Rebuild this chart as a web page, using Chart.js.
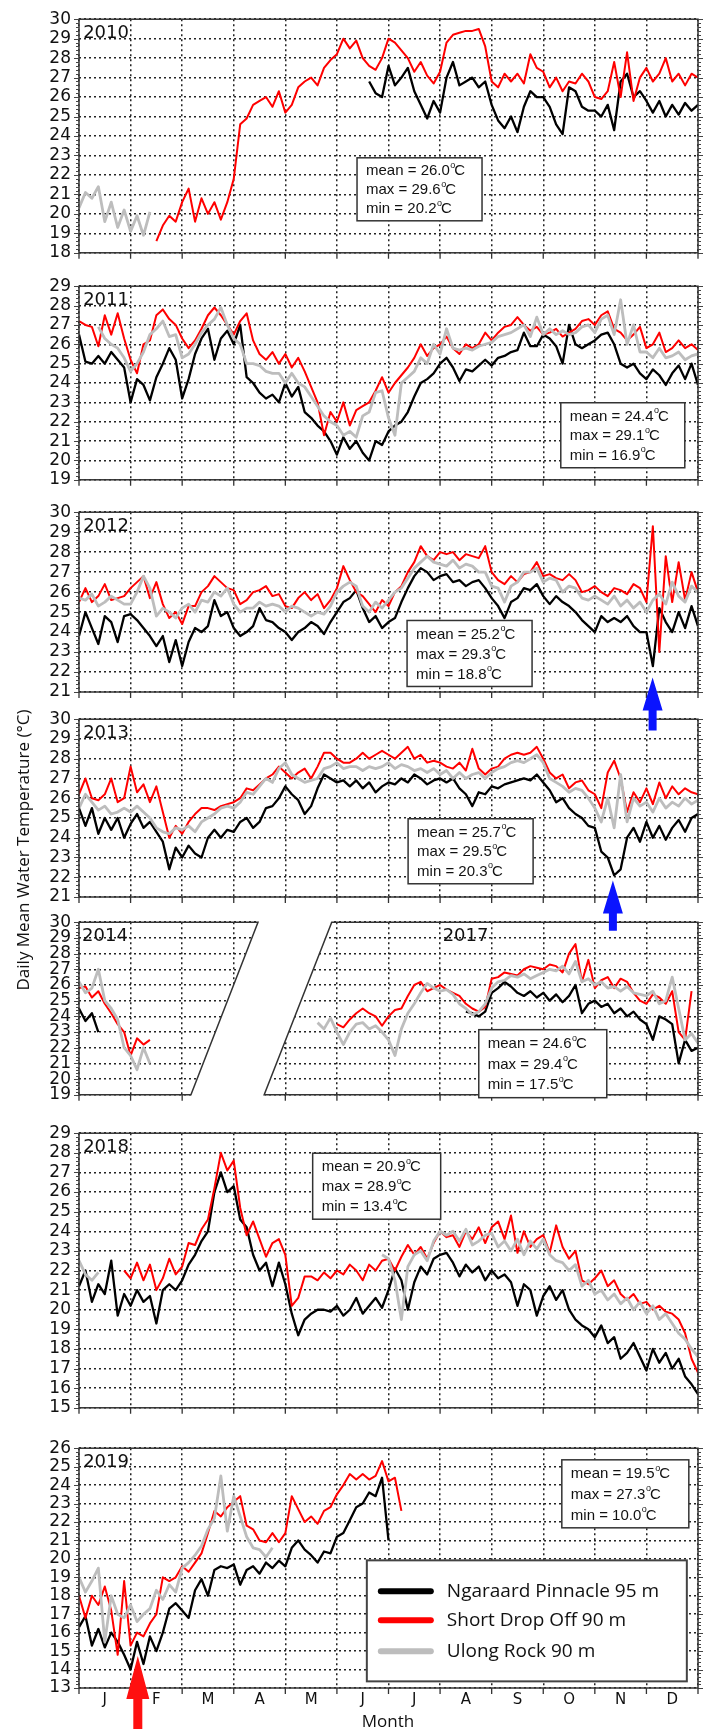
<!DOCTYPE html>
<html><head><meta charset="utf-8">
<script src="https://cdn.jsdelivr.net/npm/chart.js@4.4.0/dist/chart.umd.min.js"></script>
<style>
html,body{margin:0;padding:0;background:#fff;}
#wrap{position:relative;width:709px;height:1729px;overflow:hidden;background:#fff;}
#wrap canvas{position:absolute;left:0;}
#ytitle{position:absolute;left:-178px;top:839px;width:400px;height:22px;line-height:22px;text-align:center;font:17px "Open Sans",sans-serif;color:#111;transform:rotate(-90deg);z-index:200;}
#xtitle{position:absolute;left:288px;top:1709px;width:200px;height:22px;line-height:22px;text-align:center;font:17px "Open Sans",sans-serif;color:#111;z-index:200;}
</style></head><body>
<div id="wrap"><div id="ytitle">Daily Mean Water Temperature (°C)</div><div id="xtitle">Month</div></div>
<script>
// ---------------- DATA (x in months from 1 Jan, one value every 1/8 month) ----------------
const STEP = 0.125;
const monthLabels = ['J','F','M','A','M','J','J','A','S','O','N','D'];
const stationNames = ['Ngaraard Pinnacle 95 m','Short Drop Off 90 m','Ulong Rock 90 m'];

// 2010
const y2010_ngaraard_start = 5.625;
const y2010_ngaraard = [26.8,26.2,26.0, 27.6,26.6,27.0,27.5, 26.3,25.6,24.9,25.8, 25.2,27.0,27.8,26.6, 26.8,27.0,26.5,26.8, 25.6,24.8,24.4,25.0, 24.2,25.5,26.3,26.0, 26.0,25.5,24.6,24.1, 26.5,26.3,25.5,25.3, 25.3,25.0,25.6,24.3, 26.8,27.2,26.0,26.3, 25.8,25.2,25.8,25.0, 25.6,25.1,25.7,25.3, 25.6];
const y2010_shortdrop_start = 1.5;
const y2010_shortdrop = [18.6,19.4,19.9,19.6, 20.6,21.3,19.6,20.8, 20.0,20.6,19.7,20.6, 21.8,24.6,24.9,25.6, 25.8,26.0,25.5,26.3, 25.2,25.6,26.5,26.8, 27.0,26.6,27.5,27.9, 28.2,29.0,28.5,28.9, 28.0,27.6,27.4,28.0, 29.0,28.8,28.4,28.0, 27.3,27.8,27.1,26.7, 27.3,28.8,29.2,29.3, 29.4,29.4,29.5,28.6, 26.8,26.5,27.2,26.8, 27.2,26.7,28.2,27.5, 27.3,26.5,27.0,26.3, 26.8,26.7,27.2,26.8, 26.0,25.9,26.3,27.8, 26.0,28.3,25.8,27.0, 27.5,26.8,27.2,28.0, 26.8,27.2,26.6,27.2, 27.0];
const y2010_ulong_start = 0;
const y2010_ulong = [20.3,21.1,20.8,21.4,19.6,20.6,19.3,20.2,19.1,19.9,18.9,20.1];

// 2011
const y2011_ngaraard_start = 0;
const y2011_ngaraard = [26.5,25.1,25.0,25.4, 25.0,25.6,25.2,24.8, 23.0,24.2,23.9,23.1, 24.3,25.0,25.8,25.2, 23.2,24.2,25.5,26.3, 26.8,25.2,26.3,26.7, 26.0,27.0,24.3,24.0, 23.5,23.2,23.4,23.0, 24.0,23.3,23.8,22.5, 22.2,21.8,21.5,21.0, 20.3,21.2,20.6,21.0, 20.4,20.0,21.0,20.8, 21.5,21.8,22.0,22.5, 23.3,24.0,24.2,24.5, 25.0,25.3,24.8,24.1, 24.7,24.6,24.9,25.2, 24.9,25.3,25.4,25.6, 25.7,26.6,25.9,25.9, 26.5,26.3,25.9,25.0, 27.0,26.0,25.8,26.0, 26.2,26.5,26.6,26.0, 25.0,24.8,25.0,24.5, 24.2,24.7,24.4,23.9, 24.5,24.9,24.2,25.0, 23.9];
const y2011_shortdrop_start = 0;
const y2011_shortdrop = [27.2,27.0,26.9,25.9, 27.5,26.5,27.6,26.3, 25.2,24.5,26.0,26.2, 27.5,27.8,27.3,27.0, 26.3,25.8,26.2,26.8, 27.5,27.9,27.5,27.0, 26.5,27.2,27.6,26.2, 25.5,25.2,25.6,25.0, 25.5,24.8,25.3,24.6, 23.8,23.0,21.3,22.5, 22.0,23.0,21.8,22.6, 22.8,23.0,23.6,24.3, 23.5,24.0,24.4,24.8, 25.3,26.0,25.4,25.8, 26.0,26.4,25.8,25.5, 26.0,25.8,26.0,26.6, 26.2,26.6,26.9,27.0, 27.4,27.0,26.7,26.9, 26.5,26.6,26.8,26.4, 26.6,26.8,27.2,27.3, 27.0,27.5,27.7,26.8, 26.6,26.2,26.5,26.9, 25.8,26.0,26.6,25.6, 25.8,26.2,25.8,26.0, 25.7];
const y2011_ulong_start = 0.375;
const y2011_ulong = [26.9, 26.3,26.0,25.8,25.3, 24.6,25.0,25.6,26.5, 26.8,27.2,26.4,26.5, 25.3,25.5,26.0,26.6, 27.0,27.3,27.9,27.0, 26.3,26.0,25.0,25.0, 24.9,24.6,24.5,24.5, 24.0,24.5,24.0,23.8, 23.3,22.8,22.3,22.0, 21.8,21.3,21.5,21.2, 22.3,22.5,23.5,23.6, 22.2,21.3,24.0,24.3, 24.6,25.3,25.0,26.0, 25.5,26.8,25.8,25.7, 25.8,25.7,25.9,26.0, 26.1,26.4,26.5,26.6, 26.8,27.0,26.4,27.4, 26.5,26.8,26.5,26.7, 26.5,26.6,26.9,27.0, 26.6,27.3,27.5,26.5, 28.3,26.0,27.0,25.6, 25.6,25.3,25.8,25.3, 25.4,25.6,25.2,25.4, 25.5];

// 2012
const y2012_ngaraard_start = 0;
const y2012_ngaraard = [23.8,25.0,24.2,23.4, 24.8,24.5,23.5,24.8, 24.9,24.6,24.2,23.8, 23.3,23.8,22.5,23.6, 22.3,23.5,24.2,24.0, 24.3,25.6,24.8,25.0, 24.2,23.8,24.0,24.3, 25.2,24.6,24.5,24.2, 24.0,23.6,24.0,24.2, 24.5,24.3,23.9,24.5, 25.0,25.5,25.7,26.1, 25.2,24.5,24.8,24.2, 24.5,24.7,25.5,26.2, 26.8,27.2,27.0,26.6, 26.8,26.9,26.5,26.6, 26.3,26.5,26.6,26.2, 25.7,25.3,24.7,25.5, 25.7,26.2,26.1,26.4, 25.8,25.4,25.8,25.5, 25.3,25.0,24.6,24.3, 24.0,24.8,24.5,24.7, 24.5,24.8,24.3,24.0, 24.0,22.3,25.2,24.5, 24.0,25.0,24.2,25.3, 24.3];
const y2012_shortdrop_start = 0;
const y2012_shortdrop = [25.5,26.2,25.5,25.8, 26.4,25.6,25.7,25.8, 26.2,26.5,26.8,25.7, 26.5,25.4,24.7,25.0, 24.4,25.3,25.3,26.0, 26.3,26.8,26.5,26.2, 26.1,25.4,25.6,26.0, 26.1,26.3,25.8,25.9, 25.3,25.2,25.7,26.0, 25.6,25.9,25.2,25.6, 26.2,27.3,26.6,26.0, 25.8,25.4,25.0,25.6, 25.3,26.0,26.3,27.0, 27.5,28.3,27.8,27.6, 28.0,27.9,28.0,27.6, 27.9,27.8,27.7,28.3, 27.0,26.6,26.4,26.8, 26.5,26.9,27.0,27.5, 26.8,26.9,26.7,26.6, 26.9,26.6,26.0,26.1, 26.3,26.0,25.8,26.2, 26.1,25.9,26.4,26.2, 25.5,29.3,23.0,27.8, 25.5,27.5,25.6,27.0, 26.0];
const y2012_ulong_start = 0;
const y2012_ulong = [25.7,25.6,25.9,25.3, 25.5,25.8,25.6,25.4, 25.4,26.0,26.8,26.2, 24.8,25.2,25.0,24.7, 25.2,25.4,25.0,25.6, 25.5,26.0,25.8,26.2, 25.4,25.0,25.2,25.2, 25.5,25.3,25.4,25.3, 25.0,25.3,25.2,25.0, 24.8,25.0,24.9,25.3, 26.0,26.3,26.5,26.3, 25.3,25.0,25.5,25.2, 25.6,26.0,26.2,26.7, 27.2,27.5,27.8,27.5, 27.4,27.3,27.6,27.2, 27.4,27.3,27.0,27.0, 26.3,26.2,25.5,26.3, 26.5,27.0,27.0,27.2, 26.5,26.7,26.6,26.0, 26.3,26.2,25.7,25.6, 25.8,25.6,25.4,25.8, 25.3,25.6,25.2,25.5, 25.0,25.6,25.9,25.4, 26.5,25.8,25.5,26.3, 26.0];

// 2013
const y2013_ngaraard_start = 0;
const y2013_ngaraard = [25.5,24.6,25.5,24.2, 25.0,24.4,25.0,24.0, 24.7,25.2,24.5,24.8, 24.3,23.8,22.4,23.5, 23.0,23.6,23.2,23.0, 24.0,24.4,24.0,24.4, 24.3,24.8,25.0,24.5, 24.8,25.5,25.6,26.0, 26.6,26.2,25.9,25.2, 25.6,26.5,27.2,27.0, 26.8,26.9,26.6,26.9, 26.5,26.8,26.3,26.6, 26.8,26.7,27.0,26.8, 27.2,27.0,26.7,26.9, 27.0,26.8,27.0,26.5, 26.2,25.6,26.3,26.2, 26.6,26.5,26.7,26.8, 26.9,27.0,26.9,27.2, 26.8,26.4,25.8,26.0, 25.5,25.2,25.0,24.6, 24.5,23.3,23.0,22.1, 22.4,24.0,24.5,23.8, 24.8,24.0,24.6,23.9, 24.5,24.9,24.3,25.0, 25.2];
const y2013_shortdrop_start = 0;
const y2013_shortdrop = [26.2,27.0,26.0,25.9, 26.2,27.0,25.8,26.0, 27.6,26.3,26.7,25.8, 26.6,25.3,24.0,24.6, 24.2,24.8,25.2,25.5, 25.5,25.4,25.6,25.7, 25.8,26.0,26.5,26.4, 26.7,27.0,27.2,27.6, 27.3,27.0,27.3,27.5, 27.0,27.6,28.3,28.3, 28.0,27.8,27.8,28.0, 28.3,28.0,28.2,28.4, 28.2,28.0,28.3,28.6, 28.0,28.2,27.8,27.9, 27.8,27.6,27.5,27.8, 27.4,28.5,27.5,27.2, 27.5,27.6,28.0,28.2, 28.3,28.2,28.3,28.6, 28.0,27.3,27.0,27.2, 26.5,26.8,26.9,26.4, 26.2,25.5,27.3,27.9, 27.0,25.3,26.3,25.8, 26.5,25.7,26.8,26.0, 26.6,26.2,26.5,26.3, 26.2];
const y2013_ulong_start = 0;
const y2013_ulong = [25.5,26.2,25.8,25.4, 25.6,25.2,25.3,25.5, 25.3,25.6,25.3,25.0, 24.5,24.3,24.2,24.5, 24.4,24.6,24.3,24.8, 25.0,25.2,25.5,25.6, 25.5,25.8,26.3,26.2, 26.6,27.0,26.8,27.5, 27.8,27.2,27.0,26.8, 26.9,27.0,27.5,27.6, 27.8,27.5,27.6,27.6, 27.4,27.6,27.5,27.6, 27.8,27.5,27.7,27.6, 27.4,27.5,27.3,27.5, 27.2,27.4,27.0,27.3, 27.0,27.2,27.3,27.0, 27.3,27.5,27.6,27.8, 27.9,27.8,28.0,28.2, 27.8,27.0,26.8,26.6, 26.3,26.5,26.4,26.0, 25.5,24.8,26.0,24.5, 27.2,24.8,26.0,25.6, 25.8,25.3,26.0,25.5, 25.8,25.6,26.0,25.7, 25.9];

// 2014 (Jan-Feb) and 2017 (May-Dec)
const y2014_ngaraard_start = 0;
const y2014_ngaraard = [24.5,23.7,24.2,23.0];
const y2014_shortdrop_start = 0;
const y2014_shortdrop = [25.8,25.9,25.2,25.6,24.8,24.2,23.5,23.0,21.5,22.6,22.2,22.5];
const y2014_ulong_start = 0;
const y2014_ulong = [26.2,25.5,25.8,27.0,25.0,24.5,23.8,22.0,21.5,20.6,22.0,21.0];
const y2017_ngaraard_start = 7.5;
const y2017_ngaraard = [24.3,24.2,24.0,24.3, 25.5,25.8,26.2,25.9, 25.5,25.3,25.6,25.2, 25.5,25.0,25.4,24.9, 25.3,26.0,24.2,24.8, 25.0,24.6,24.8,24.2, 24.5,24.0,24.3,23.8, 23.5,22.5,24.0,23.8, 23.5,21.0,22.5,21.8, 22.0];
const y2017_shortdrop_start = 5.0;
const y2017_shortdrop = [23.5,23.3,23.8,24.2, 24.5,24.2,24.0,23.4, 24.0,24.4,24.5,25.3, 26.0,26.2,25.6,25.8, 26.0,25.7,25.5,25.3, 24.8,24.5,24.3,24.6, 26.4,26.5,26.8,26.7, 26.6,27.0,27.2,27.1, 27.0,27.3,27.2,26.8, 28.0,28.6,26.2,27.6, 25.8,26.3,26.5,25.8, 26.4,26.2,25.5,25.0, 24.8,25.4,25.2,24.8, 25.6,23.0,22.5,25.6];
const y2017_ulong_start = 4.625;
const y2017_ulong = [23.6,23.2,23.9, 23.0,22.2,23.0,23.5, 23.6,23.2,23.4,23.0, 22.5,21.5,23.2,24.2, 24.8,25.5,26.1,25.8, 25.6,25.7,25.4,24.8, 24.5,24.1,24.3,24.8, 25.8,26.2,26.3,26.6, 26.5,26.7,26.4,26.6, 26.8,27.0,26.9,27.2, 26.7,27.5,26.2,26.4, 26.0,26.2,25.8,25.9, 25.6,25.9,25.5,25.4, 25.3,25.6,24.8,25.0, 26.5,24.5,22.5,22.9, 22.3];

// 2018
const y2018_ngaraard_start = 0;
const y2018_ngaraard = [21.2,22.0,20.4,21.3, 20.8,22.5,19.7,20.8, 20.2,21.0,20.4,20.7, 19.3,21.0,21.3,21.0, 21.5,22.3,22.8,23.5, 24.0,26.0,27.0,26.0, 26.3,24.6,24.2,22.8, 22.0,22.4,21.2,22.4, 21.3,19.8,18.7,19.5, 19.8,20.0,20.0,19.9, 20.2,19.7,20.0,20.6, 19.8,20.2,20.6,20.1, 21.0,22.1,21.5,20.0, 21.4,22.2,21.8,22.6, 22.8,22.9,22.4,21.7, 22.3,21.9,22.2,21.5, 22.0,21.6,21.8,21.4, 20.2,21.3,21.0,19.7, 20.7,21.2,20.5,21.0, 20.0,19.5,19.2,19.0, 18.6,19.2,18.3,18.6, 17.5,17.8,18.3,17.6, 16.9,18.0,17.3,17.8, 17.0,17.5,16.6,16.2, 15.7];
const y2018_shortdrop_start = 0.875;
const y2018_shortdrop = [22.0, 21.6,22.4,21.5,22.3, 21.0,21.6,22.6,21.8, 22.2,23.4,23.3,24.1, 24.6,26.2,28.0,27.1, 27.6,25.2,23.8,24.5, 23.6,22.7,23.4,23.6, 22.8,20.2,20.6,21.7, 21.7,21.5,21.9,21.6, 22.0,21.8,22.3,22.0, 21.5,22.3,22.0,22.5, 22.6,22.0,22.7,23.3, 22.8,23.2,22.6,23.4, 24.0,23.7,23.8,23.2, 24.0,23.6,24.2,23.4, 24.2,24.5,23.6,24.8, 22.9,24.0,23.2,23.6, 23.8,22.9,24.3,23.2, 22.6,23.0,21.5,21.3, 21.6,22.0,21.2,21.5, 20.8,20.5,20.8,20.3, 20.4,20.0,20.2,19.9, 19.8,19.5,18.8,17.5, 16.8];
const y2018_ulong_a_start = 0;
const y2018_ulong_a = [22.5,21.8,21.5,21.9];
const y2018_ulong_b_start = 5.875;
const y2018_ulong_b = [22.8, 22.6,21.5,19.5,22.2, 22.8,23.0,22.5,23.5, 24.0,23.8,24.0,23.5, 24.1,23.3,23.5,23.8, 23.9,23.2,23.5,23.0, 23.6,22.8,23.5,23.1, 23.6,22.8,22.5,22.4, 22.0,22.3,21.2,21.5, 20.8,21.0,20.5,20.8, 20.3,20.6,20.0,20.4, 19.8,20.2,19.5,19.8, 19.3,18.8,18.5,18.0, 17.6];

// 2019
const y2019_ngaraard_start = 0;
const y2019_ngaraard = [16.3,16.9,15.3,16.2, 15.2,16.0,15.5,14.8, 14.0,15.5,14.3,15.8, 15.0,16.0,17.3,17.6, 17.2,16.8,18.3,18.9, 18.0,19.4,19.6,19.5, 19.7,18.6,19.4,19.6, 19.2,19.8,19.5,19.9, 19.6,20.6,21.0,20.5, 20.2,19.8,20.4,20.3, 21.2,21.4,22.1,22.8, 23.0,23.6,23.4,24.4, 21.0];
const y2019_shortdrop_start = 0;
const y2019_shortdrop = [18.0,16.8,18.0,17.5, 18.5,17.2,14.8,18.8, 15.3,16.0,15.8,16.5, 17.0,19.0,18.8,19.0, 19.6,19.3,19.8,20.3, 21.4,22.6,22.3,22.8, 23.1,23.4,21.8,21.6, 21.0,20.9,21.4,20.9, 21.4,23.4,22.7,22.0, 22.3,21.9,22.6,22.8, 23.5,24.0,24.6,24.3, 24.6,24.3,24.5,25.3, 24.2,24.4,22.6];
const y2019_ulong_start = 0;
const y2019_ulong = [19.0,18.2,18.8,19.5, 15.5,18.0,17.0,16.8, 17.5,16.6,17.0,17.3, 18.3,17.8,18.6,18.2, 19.5,19.8,20.2,20.7, 21.6,22.2,24.5,21.5, 23.4,22.3,21.2,20.6, 20.5,20.1,20.6];

// ---------------- helpers ----------------
function seg(start, vals){ return vals.map((v,i)=>({x:start + i*STEP, y:v})); }
function join(){ const out=[]; Array.from(arguments).forEach((s,k)=>{ if(k>0) out.push({x:s[0].x - STEP/2, y:null}); s.forEach(p=>out.push(p)); }); return out; }

const COL_BLACK = '#000000', COL_RED = '#ff0000', COL_GRAY = '#bdbdbd';
const GRID = '#222222';
const TICK_FONT = {family:'"DejaVu Sans", sans-serif', size:17};
const PAD_TOP = 12;
const L = 79, R = 698;

const panels = [
 {T:13,B:259,ymin:18,ymax:30,padBottom:12,
  years:[{t:'2010',m:0.08}],
  stats:{mean:'26.0',max:'29.6',min:'20.2',m:5.39,v:22.88,w:125,h:63},
  black:seg(y2010_ngaraard_start,y2010_ngaraard), red:seg(y2010_shortdrop_start,y2010_shortdrop), gray:seg(y2010_ulong_start,y2010_ulong)},
 {T:280,B:486,ymin:19,ymax:29,padBottom:12,
  years:[{t:'2011',m:0.08}],
  stats:{mean:'24.4',max:'29.1',min:'16.9',m:9.34,v:22.98,w:124,h:65},
  black:seg(y2011_ngaraard_start,y2011_ngaraard), red:seg(y2011_shortdrop_start,y2011_shortdrop), gray:seg(y2011_ulong_start,y2011_ulong)},
 {T:506,B:692,ymin:21,ymax:30,padBottom:45,
  years:[{t:'2012',m:0.08}],
  stats:{mean:'25.2',max:'29.3',min:'18.8',m:6.36,v:24.58,w:125,h:66},
  arrow:{m:11.12,tip:21.73,tail:19.07,color:'#0a14ff',head:33,hw:20,sw:8},
  black:seg(y2012_ngaraard_start,y2012_ngaraard), red:seg(y2012_shortdrop_start,y2012_shortdrop), gray:seg(y2012_ulong_start,y2012_ulong)},
 {T:713,B:897,ymin:21,ymax:30,padBottom:38,
  years:[{t:'2013',m:0.08}],
  stats:{mean:'25.7',max:'29.5',min:'20.3',m:6.38,v:24.96,w:125,h:65},
  arrow:{m:10.35,tip:21.83,tail:19.29,color:'#0a14ff',head:33,hw:20,sw:8},
  black:seg(y2013_ngaraard_start,y2013_ngaraard), red:seg(y2013_shortdrop_start,y2013_shortdrop), gray:seg(y2013_ulong_start,y2013_ulong)},
 {T:916,B:1101,ymin:19,ymax:30,padBottom:12,
  years:[{t:'2014',m:0.06},{t:'2017',m:7.05}],
  stats:{mean:'24.6',max:'29.4',min:'17.5',m:7.75,v:23.15,w:128,h:68},
  brk:{topL:3.47,botL:2.17,topR:4.90,botR:3.59},
  black:join(seg(y2014_ngaraard_start,y2014_ngaraard),seg(y2017_ngaraard_start,y2017_ngaraard)),
  red:join(seg(y2014_shortdrop_start,y2014_shortdrop),seg(y2017_shortdrop_start,y2017_shortdrop)),
  gray:join(seg(y2014_ulong_start,y2014_ulong),seg(y2017_ulong_start,y2017_ulong))},
 {T:1127,B:1414,ymin:15,ymax:29,padBottom:12,
  years:[{t:'2018',m:0.08}],
  stats:{mean:'20.9',max:'28.9',min:'13.4',m:4.53,v:27.98,w:128,h:66},
  black:seg(y2018_ngaraard_start,y2018_ngaraard), red:seg(y2018_shortdrop_start,y2018_shortdrop),
  gray:join(seg(y2018_ulong_a_start,y2018_ulong_a),seg(y2018_ulong_b_start,y2018_ulong_b))},
 {T:1442,B:1688,ymin:13,ymax:26,padBottom:41,
  years:[{t:'2019',m:0.08}],
  stats:{mean:'19.5',max:'27.3',min:'10.0',m:9.36,v:25.37,w:127,h:68},
  arrow:{m:1.14,tip:14.74,tail:10.5,color:'#ff1010',head:43,hw:23,sw:9},
  legend:{m:5.58,v:19.92,w:320,h:121},
  monthLabels:true,
  black:seg(y2019_ngaraard_start,y2019_ngaraard), red:seg(y2019_shortdrop_start,y2019_shortdrop), gray:seg(y2019_ulong_start,y2019_ulong)}
];

function drawStatLine(ctx, x, y, label, val){
  ctx.font = '15px "Liberation Sans", Arial, sans-serif';
  ctx.textBaseline = 'middle'; ctx.textAlign = 'left'; ctx.fillStyle = '#111';
  const s = label + ' = ' + val;
  ctx.fillText(s, x, y);
  const w = ctx.measureText(s).width;
  ctx.font = '9px "Liberation Sans", Arial, sans-serif';
  ctx.fillText('o', x + w + 0.5, y - 6);
  const ow = ctx.measureText('o').width;
  ctx.font = '15px "Liberation Sans", Arial, sans-serif';
  ctx.fillText('C', x + w + ow - 0.5, y);
}

function makeDeco(p){
  return {
    id:'deco',
    beforeDatasetsDraw(chart){
      if(!p.brk) return;
      const ctx = chart.ctx, xs = chart.scales.x, a = chart.chartArea;
      ctx.save();
      ctx.fillStyle = '#fff';
      ctx.beginPath();
      ctx.moveTo(xs.getPixelForValue(p.brk.topL), a.top - 2);
      ctx.lineTo(xs.getPixelForValue(p.brk.topR), a.top - 2);
      ctx.lineTo(xs.getPixelForValue(p.brk.botR), a.bottom + 2);
      ctx.lineTo(xs.getPixelForValue(p.brk.botL), a.bottom + 2);
      ctx.closePath(); ctx.fill();
      ctx.restore();
    },
    afterDraw(chart){
      const ctx = chart.ctx, xs = chart.scales.x, ys = chart.scales.y, a = chart.chartArea;
      ctx.save();
      // frame
      ctx.strokeStyle = '#333'; ctx.lineWidth = 1.5; ctx.setLineDash([]);
      if(p.brk){
        const tl = xs.getPixelForValue(p.brk.topL), bl = xs.getPixelForValue(p.brk.botL);
        const tr = xs.getPixelForValue(p.brk.topR), br = xs.getPixelForValue(p.brk.botR);
        ctx.beginPath(); ctx.moveTo(a.left,a.top); ctx.lineTo(tl,a.top); ctx.lineTo(bl,a.bottom); ctx.lineTo(a.left,a.bottom); ctx.closePath(); ctx.stroke();
        ctx.beginPath(); ctx.moveTo(tr,a.top); ctx.lineTo(a.right,a.top); ctx.lineTo(a.right,a.bottom); ctx.lineTo(br,a.bottom); ctx.closePath(); ctx.stroke();
      } else {
        ctx.strokeRect(a.left, a.top, a.right - a.left, a.bottom - a.top);
      }
      // y minor/major ticks on both sides
      ctx.lineWidth = 1; ctx.strokeStyle = '#444';
      ctx.beginPath();
      const n = Math.round((p.ymax - p.ymin) / 0.2);
      for(let i=0;i<=n;i++){
        const v = p.ymin + i*0.2;
        const y = Math.round(ys.getPixelForValue(v)) + 0.5;
        const major = (i % 5) === 0;
        const len = major ? 5 : 3;
        ctx.moveTo(a.left - len, y); ctx.lineTo(a.left, y);
        ctx.moveTo(a.right, y); ctx.lineTo(a.right + len, y);
      }
      ctx.stroke();
      // month boundary ticks at bottom
      ctx.lineWidth = 1.3; ctx.strokeStyle = '#333';
      ctx.beginPath();
      for(let m=0;m<=12;m++){
        const x = xs.getPixelForValue(m);
        if(p.brk){
          const bl = xs.getPixelForValue(p.brk.botL), br = xs.getPixelForValue(p.brk.botR);
          if(x > bl && x < br) continue;
        }
        ctx.moveTo(x, a.bottom); ctx.lineTo(x, a.bottom + 6);
      }
      ctx.stroke();
      // year labels
      ctx.font = '18px "DejaVu Sans", sans-serif';
      ctx.fillStyle = '#111'; ctx.textAlign = 'left'; ctx.textBaseline = 'middle';
      p.years.forEach(yl => ctx.fillText(yl.t, xs.getPixelForValue(yl.m), a.top + 14));
      // stats box
      const st = p.stats;
      const bx = xs.getPixelForValue(st.m), by = ys.getPixelForValue(st.v);
      ctx.fillStyle = '#fff'; ctx.fillRect(bx, by, st.w, st.h);
      ctx.strokeStyle = '#333'; ctx.lineWidth = 1.5; ctx.strokeRect(bx, by, st.w, st.h);
      const gap = (st.h - 6) / 3;
      drawStatLine(ctx, bx + 9, by + 3 + gap*0.5 + 1, 'mean', st.mean + '');
      drawStatLine(ctx, bx + 9, by + 3 + gap*1.5 + 1, 'max', st.max + '');
      drawStatLine(ctx, bx + 9, by + 3 + gap*2.5 + 1, 'min', st.min + '');
      // arrow
      if(p.arrow){
        const ar = p.arrow;
        const x = xs.getPixelForValue(ar.m), yt = ys.getPixelForValue(ar.tip), yb = ys.getPixelForValue(ar.tail);
        ctx.fillStyle = ar.color;
        ctx.beginPath();
        ctx.moveTo(x, yt);
        ctx.lineTo(x + ar.hw/2, yt + ar.head);
        ctx.lineTo(x + ar.sw/2, yt + ar.head);
        ctx.lineTo(x + ar.sw/2, yb);
        ctx.lineTo(x - ar.sw/2, yb);
        ctx.lineTo(x - ar.sw/2, yt + ar.head);
        ctx.lineTo(x - ar.hw/2, yt + ar.head);
        ctx.closePath(); ctx.fill();
      }
      // legend
      if(p.legend){
        const lg = p.legend;
        const lx = xs.getPixelForValue(lg.m), ly = ys.getPixelForValue(lg.v);
        ctx.fillStyle = '#fff'; ctx.fillRect(lx, ly, lg.w, lg.h);
        ctx.strokeStyle = '#444'; ctx.lineWidth = 2; ctx.strokeRect(lx, ly, lg.w, lg.h);
        const ds = chart.data.datasets.slice().reverse();
        const rows = [31, 60, 91];
        ds.forEach((d, i) => {
          const yy = ly + rows[i];
          ctx.strokeStyle = d.borderColor; ctx.lineWidth = 6; ctx.lineCap = 'round';
          ctx.beginPath(); ctx.moveTo(lx + 14, yy); ctx.lineTo(lx + 64, yy); ctx.stroke();
          ctx.lineCap = 'butt';
          ctx.font = '19px "Open Sans", sans-serif'; ctx.fillStyle = '#111';
          ctx.textAlign = 'left'; ctx.textBaseline = 'middle';
          ctx.fillText(d.label, lx + 80, yy);
        });
      }
      ctx.restore();
    }
  };
}

const wrap = document.getElementById('wrap');
panels.forEach((p, idx) => {
  const c = document.createElement('canvas');
  const h = (p.B - p.T) + PAD_TOP + p.padBottom;
  c.width = 709; c.height = h;
  c.style.width = '709px'; c.style.height = h + 'px';
  c.style.top = (p.T - PAD_TOP) + 'px';
  c.style.zIndex = String(100 - idx);
  wrap.appendChild(c);
  const xTicks = [];
  for(let m=0;m<=12;m++){ xTicks.push(m); if(p.monthLabels && m<12) xTicks.push(m + 0.5); }
  new Chart(c, {
    type:'line',
    data:{datasets:[
      {label:stationNames[2], data:p.gray, borderColor:COL_GRAY, borderWidth:2.8},
      {label:stationNames[1], data:p.red, borderColor:COL_RED, borderWidth:2},
      {label:stationNames[0], data:p.black, borderColor:COL_BLACK, borderWidth:2.3}
    ].map(d => Object.assign(d, {pointRadius:0, tension:0, fill:false, spanGaps:false, borderJoinStyle:'round'}))},
    options:{
      responsive:false, animation:false, devicePixelRatio:1, events:[],
      layout:{padding:{top:PAD_TOP, right:709 - R, left:0, bottom:0}},
      plugins:{legend:{display:false}, tooltip:{enabled:false}},
      scales:{
        x:{type:'linear', min:0, max:12,
           afterFit: s => { s.height = p.padBottom; },
           afterBuildTicks: s => { s.ticks = xTicks.map(v => ({value:v})); },
           grid:{drawTicks:false, lineWidth:1.5, color: ctx => (ctx.tick && Number.isInteger(ctx.tick.value)) ? GRID : 'rgba(0,0,0,0)'},
           border:{display:false, dash:[2,3]},
           ticks:{display:!!p.monthLabels, autoSkip:false, maxRotation:0, padding:3, color:'#111',
                  font:{family:'"DejaVu Sans", sans-serif', size:15},
                  callback: v => Number.isInteger(v) ? '' : monthLabels[Math.floor(v)]}},
        y:{type:'linear', min:p.ymin, max:p.ymax,
           afterFit: s => { s.width = L; },
           afterBuildTicks: s => { const t=[]; for(let v=p.ymin; v<=p.ymax; v++) t.push({value:v}); s.ticks = t; },
           grid:{drawTicks:false, lineWidth:1.5, color:GRID},
           border:{display:false, dash:[2,3]},
           ticks:{stepSize:1, autoSkip:false, padding:8, color:'#111', font:TICK_FONT}}
      }
    },
    plugins:[makeDeco(p)]
  });
});
</script>
</body></html>
